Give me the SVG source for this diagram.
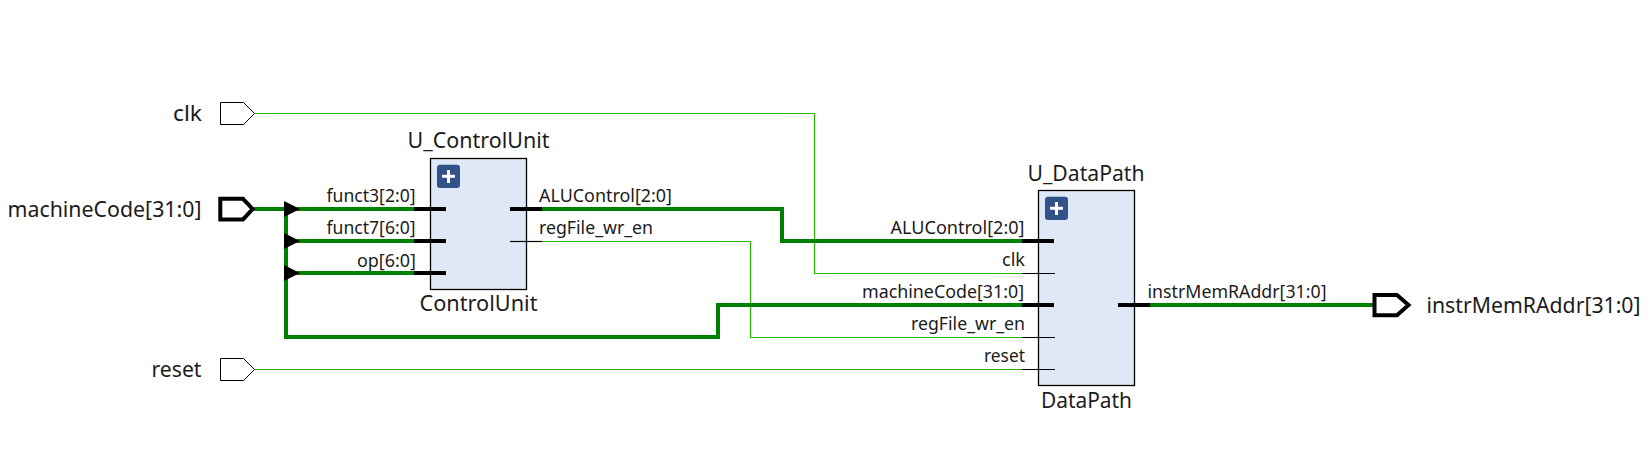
<svg xmlns="http://www.w3.org/2000/svg" width="1648" height="451" viewBox="0 0 1648 451">
<style>
text{font-family:"Noto Sans","Open Sans","Liberation Sans",sans-serif;fill:#1c1c1c}
.b{font-size:22px}
.s{font-size:18px}
.e{text-anchor:end}
.port{fill:#fff;stroke:#000;stroke-width:1;stroke-linejoin:miter}
.portb{fill:#fff;stroke:#000;stroke-width:4;stroke-linejoin:miter}
.blk{fill:#dee8f7;stroke:#000;stroke-width:1.3}
.btn{fill:#34528a}
.plus{stroke:#fff;stroke-width:3;fill:none}
.w{fill:none;stroke:#26b500;stroke-width:1.2}
.w2{fill:none;stroke:#2aa600;stroke-width:1}
.t{fill:none;stroke:#008000;stroke-width:4;stroke-linejoin:miter}
.kw{fill:none;stroke:#000;stroke-width:1.2}
.kt{fill:none;stroke:#000;stroke-width:4}
.arr{fill:#000}
</style>
<g id="connectors">
<path class="w" d="M255 113.5H814.5V273.5H1022"/>
<path class="w" d="M542 241.5H750.5V337.5H1022"/>
<path class="w2" d="M255 369.5H1022"/>
<path class="t" d="M254 209H414"/>
<path class="t" d="M286 209V337H718V305H1022"/>
<path class="t" d="M286 241H414"/>
<path class="t" d="M286 273H414"/>
<path class="t" d="M542 209H782V241H1022"/>
<path class="t" d="M1150 305H1374"/>
<path class="arr" d="M284 201L300 209L284 217Z"/>
<path class="arr" d="M284 233L300 241L284 249Z"/>
<path class="arr" d="M284 265L300 273L284 281Z"/>
</g>
<g id="port-clk">
<path class="port" d="M220.5 102.5H243.5L254.5 113.5L243.5 124.5H220.5Z"/>
<text class="b e" x="202" y="121" textLength="29" lengthAdjust="spacingAndGlyphs">clk</text>
</g>
<g id="port-machineCode">
<path class="portb" d="M220.3 198.8H243L252.6 209L243 219.4H220.3Z"/>
<text class="b e" x="201.5" y="217" textLength="194" lengthAdjust="spacingAndGlyphs">machineCode[31:0]</text>
</g>
<g id="port-reset">
<path class="port" d="M220.5 358.5H243.5L254.5 369.5L243.5 380.5H220.5Z"/>
<text class="b e" x="201.5" y="377" textLength="50" lengthAdjust="spacingAndGlyphs">reset</text>
</g>
<g id="port-instrMemRAddr">
<path class="portb" d="M1374.5 295H1397L1408.5 305L1397 315.2H1374.5Z"/>
<text class="b" x="1426.5" y="313" textLength="214" lengthAdjust="spacingAndGlyphs">instrMemRAddr[31:0]</text>
</g>
<g id="U_ControlUnit">
<rect class="blk" x="430.5" y="158.5" width="96" height="131"/>
<rect class="btn" x="437" y="164.7" width="23" height="23.3" rx="3"/>
<path class="plus" d="M442 176.3H455M448.5 170V183"/>
<path class="kt" d="M414 209H446M414 241H446M414 273H446M510 209H542"/>
<path class="kw" d="M510 241.5H542"/>
<text class="b" x="407.5" y="148" textLength="142" lengthAdjust="spacingAndGlyphs">U_ControlUnit</text>
<text class="b" x="419.5" y="311" textLength="118" lengthAdjust="spacingAndGlyphs">ControlUnit</text>
<text class="s e" x="415.5" y="202" textLength="89" lengthAdjust="spacingAndGlyphs">funct3[2:0]</text>
<text class="s e" x="415.5" y="234" textLength="89" lengthAdjust="spacingAndGlyphs">funct7[6:0]</text>
<text class="s e" x="416" y="266.5" textLength="59" lengthAdjust="spacingAndGlyphs">op[6:0]</text>
<text class="s" x="539" y="202" textLength="133" lengthAdjust="spacingAndGlyphs">ALUControl[2:0]</text>
<text class="s" x="539" y="234" textLength="114" lengthAdjust="spacingAndGlyphs">regFile_wr_en</text>
</g>
<g id="U_DataPath">
<rect class="blk" x="1038.5" y="190.5" width="96" height="195"/>
<rect class="btn" x="1045" y="196.7" width="23" height="23.3" rx="3"/>
<path class="plus" d="M1050 208.3H1063M1056.5 202V215"/>
<path class="kt" d="M1022 241H1054M1022 305H1054M1118 305H1150"/>
<path class="kw" d="M1022 273.5H1055M1022 337.5H1055M1022 369.5H1055"/>
<text class="b" x="1027.5" y="181" textLength="117" lengthAdjust="spacingAndGlyphs">U_DataPath</text>
<text class="b" x="1041" y="408" textLength="91" lengthAdjust="spacingAndGlyphs">DataPath</text>
<text class="s e" x="1024.5" y="233.5" textLength="134" lengthAdjust="spacingAndGlyphs">ALUControl[2:0]</text>
<text class="s e" x="1025" y="265.7" textLength="23" lengthAdjust="spacingAndGlyphs">clk</text>
<text class="s e" x="1024" y="297.5" textLength="162" lengthAdjust="spacingAndGlyphs">machineCode[31:0]</text>
<text class="s e" x="1025" y="330" textLength="114" lengthAdjust="spacingAndGlyphs">regFile_wr_en</text>
<text class="s e" x="1025" y="361.7" textLength="41" lengthAdjust="spacingAndGlyphs">reset</text>
<text class="s" x="1147.5" y="297.5" textLength="179" lengthAdjust="spacingAndGlyphs">instrMemRAddr[31:0]</text>
</g>
</svg>
